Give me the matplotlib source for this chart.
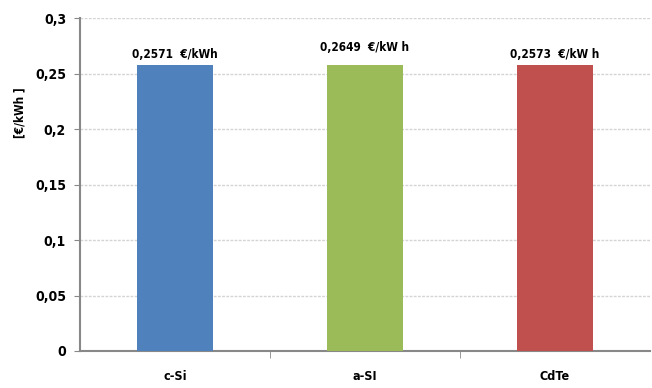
import matplotlib.pyplot as plt

categories = ['c-Si', 'a-SI', 'CdTe']
bar_heights = [0.258, 0.258, 0.258]
value_labels = ['0,2571  €/kWh', '0,2649  €/kW h', '0,2573  €/kW h']
colors = ['#4F81BD', '#9BBB59', '#C0504D']
yticks = [0, 0.05, 0.1, 0.15, 0.2, 0.25, 0.3]
ytick_labels = ['0', '0,05', '0,1', '0,15', '0,2', '0,25', '0,3']

plt.rcParams['font.family'] = ['DejaVu Sans']
plt.rcParams['font.stretch'] = 'condensed'

fig = plt.figure(figsize=(6.52, 3.88), dpi=100)
ax = fig.add_axes([0.1227, 0.0954, 0.874, 0.858])

x = range(len(categories))
ax.bar(x, bar_heights, width=0.4, color=colors, zorder=3)

for i, (h, lab) in enumerate(zip(bar_heights, value_labels)):
    off = 0.010 if i == 1 else 0.003
    ax.text(i, h + off, lab, ha='center', va='bottom', fontsize=8.5,
            fontweight='bold', fontstretch='condensed')

ax.set_xlim(-0.5, 2.5)
ax.set_ylim(0, 0.3)
ax.set_yticks(yticks)
ax.set_yticklabels(ytick_labels, fontsize=10, fontweight='bold', fontstretch='condensed')
ax.set_xticks(list(x))
ax.set_xticklabels(categories, fontsize=9, fontweight='bold', fontstretch='condensed')
ax.tick_params(axis='x', length=0, pad=14)
ax.set_xticks([0.5, 1.5], minor=True)
ax.tick_params(axis='x', which='minor', length=5, color='#888888', direction='out')
ax.tick_params(axis='y', length=4, color='#888888', direction='out', pad=6)

ax.grid(axis='y', linestyle=(0, (2, 1)), color='#d4d4d4', linewidth=1, zorder=0)
for s in ['top', 'right']:
    ax.spines[s].set_visible(False)
ax.spines['left'].set_color('#888888')
ax.spines['bottom'].set_color('#888888')
ax.spines['left'].set_linewidth(1.5)
ax.spines['bottom'].set_linewidth(1.5)

fig.text(0.03, 0.71, '[€/kWh ]', rotation=90, ha='center', va='center',
         fontsize=8.5, fontweight='bold', fontstretch='condensed')

fig.savefig('out.png', dpi=100)
